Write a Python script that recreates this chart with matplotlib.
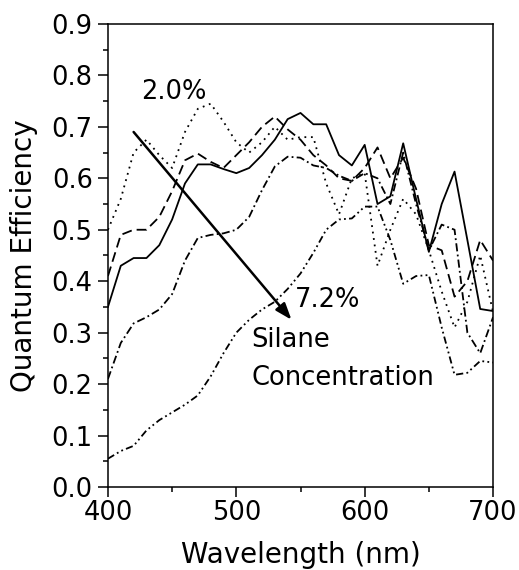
#!/usr/bin/env python3
"""Quantum efficiency vs wavelength for five silane concentrations."""

import matplotlib

matplotlib.use("Agg")
import matplotlib.pyplot as plt
from matplotlib.ticker import MultipleLocator


WAVELENGTH = [400, 410, 420, 430, 440, 450, 460, 470, 480, 490, 500,
              510, 520, 530, 540, 550, 560, 570, 580, 590, 600,
              610, 620, 630, 640, 650, 660, 670, 680, 690, 700]

QE_SOLID = [0.35, 0.43, 0.445, 0.445, 0.47, 0.52, 0.59, 0.627, 0.627, 0.618, 0.61,
            0.62, 0.645, 0.675, 0.715, 0.727, 0.705, 0.705, 0.645, 0.625, 0.665,
            0.55, 0.565, 0.668, 0.56, 0.457, 0.55, 0.613, 0.48, 0.346, 0.342]
QE_DASHED = [0.41, 0.49, 0.50, 0.50, 0.525, 0.575, 0.635, 0.648, 0.632, 0.62, 0.645,
             0.67, 0.70, 0.72, 0.695, 0.675, 0.645, 0.625, 0.60, 0.595, 0.62,
             0.66, 0.60, 0.64, 0.58, 0.47, 0.46, 0.37, 0.40, 0.48, 0.44]
QE_DOTTED = [0.50, 0.56, 0.65, 0.675, 0.645, 0.62, 0.69, 0.735, 0.745, 0.71, 0.67,
             0.65, 0.67, 0.70, 0.675, 0.68, 0.68, 0.59, 0.53, 0.60, 0.61,
             0.43, 0.50, 0.56, 0.53, 0.46, 0.38, 0.31, 0.36, 0.45, 0.34]
QE_DASHDOT = [0.21, 0.28, 0.318, 0.33, 0.345, 0.375, 0.44, 0.484, 0.49, 0.493, 0.50,
              0.525, 0.577, 0.623, 0.642, 0.64, 0.625, 0.62, 0.605, 0.595, 0.61,
              0.60, 0.55, 0.65, 0.55, 0.46, 0.51, 0.50, 0.30, 0.26, 0.33]
QE_DASHDOTDOT = [0.055, 0.07, 0.08, 0.11, 0.13, 0.145, 0.16, 0.178, 0.215, 0.26, 0.30,
                 0.325, 0.345, 0.36, 0.385, 0.415, 0.455, 0.50, 0.52, 0.522, 0.545,
                 0.545, 0.48, 0.395, 0.41, 0.412, 0.31, 0.218, 0.222, 0.245, 0.242]

SERIES = [
    (QE_SOLID, (None, None)),
    (QE_DASHED, (0, (5.5, 2.8))),
    (QE_DOTTED, (0, (1.0, 2.6))),
    (QE_DASHDOT, (0, (4.5, 1.8, 1.0, 1.8))),
    (QE_DASHDOTDOT, (0, (4.0, 1.8, 1.0, 1.8, 1.0, 1.8))),
]


def main() -> None:
    fig = plt.figure(figsize=(5.19, 5.70), dpi=100)
    ax = fig.add_axes([0.208, 0.1456, 0.742, 0.8124])

    for values, style in SERIES:
        ls = "-" if style[0] is None else style
        ax.plot(WAVELENGTH, values, color="black", linewidth=1.3, linestyle=ls)

    ax.set_xlim(400, 700)
    ax.set_ylim(0.0, 0.9)
    ax.xaxis.set_major_locator(MultipleLocator(100))
    ax.xaxis.set_minor_locator(MultipleLocator(50))
    ax.yaxis.set_major_locator(MultipleLocator(0.1))
    ax.yaxis.set_minor_locator(MultipleLocator(0.05))
    ax.yaxis.set_major_formatter(plt.FormatStrFormatter("%.1f"))
    ax.tick_params(which="both", direction="out", top=False, right=False,
                   width=1.1, labelsize=18.5)
    ax.tick_params(axis="y", pad=4)
    ax.tick_params(axis="x", pad=2)
    ax.tick_params(which="major", length=7)
    ax.tick_params(which="minor", length=3.6)
    for spine in ax.spines.values():
        spine.set_linewidth(1.1)

    ax.set_xlabel("Wavelength (nm)", fontsize=20, labelpad=11)
    ax.set_ylabel("Quantum Efficiency", fontsize=20, labelpad=10)

    ax.annotate("", xy=(543, 0.325), xytext=(420, 0.69),
                arrowprops=dict(arrowstyle="-|>,head_length=0.55,head_width=0.2",
                                color="black", lw=1.8, mutation_scale=18,
                                shrinkA=0, shrinkB=0))
    ax.text(425.5, 0.754, "2.0%", fontsize=18.5, ha="left", va="baseline")
    ax.text(546, 0.35, "7.2%", fontsize=18.5, ha="left", va="baseline")
    ax.text(512, 0.272, "Silane", fontsize=18.5, ha="left", va="baseline")
    ax.text(512, 0.198, "Concentration", fontsize=18.5, ha="left", va="baseline")

    fig.savefig("out.png", dpi=100)
    plt.close(fig)


if __name__ == "__main__":
    main()
